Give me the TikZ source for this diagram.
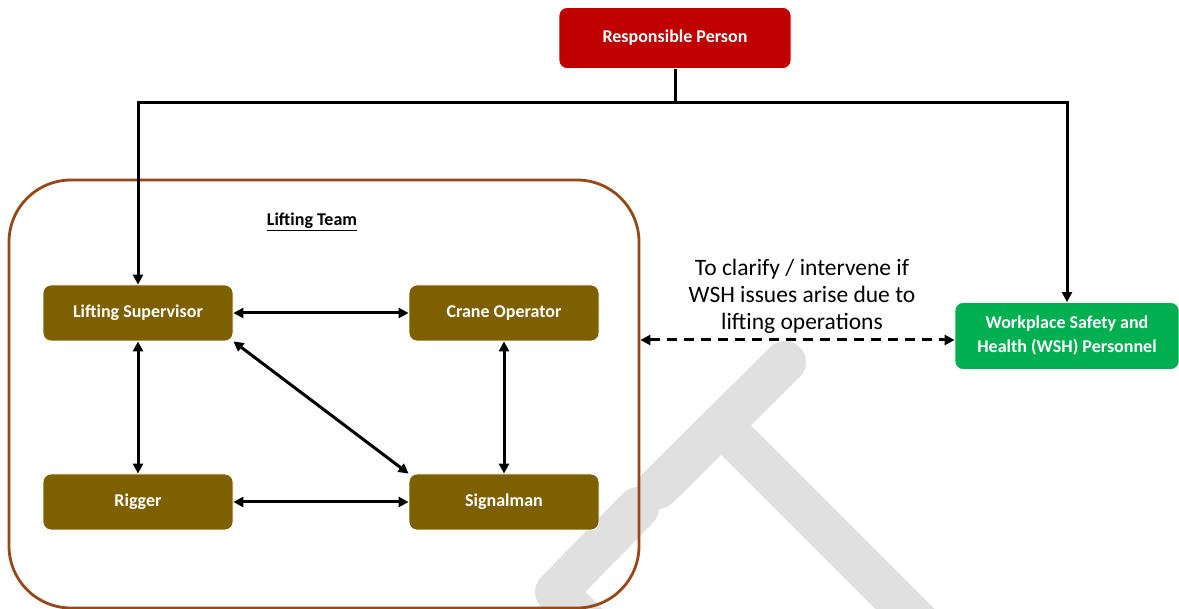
\documentclass[tikz,border=0pt]{standalone}
\usepackage{fontspec}
\setmainfont{Carlito}
\usetikzlibrary{arrows.meta}
\definecolor{rpred}{RGB}{192,0,0}
\definecolor{olive}{RGB}{127,96,0}
\definecolor{wshgreen}{RGB}{0,176,80}
\definecolor{teambrown}{RGB}{150,72,22}
\definecolor{wmgray}{RGB}{224,224,224}
\tikzset{
  box/.style={draw=white, line width=0.8pt, rounded corners=8pt, text=white,
    font=\fontsize{18}{22}\selectfont\bfseries, align=center, inner sep=0pt},
  teambox/.style={box, fill=olive, minimum width=190pt, minimum height=56pt},
  conn/.style={line width=3pt, {Triangle[length=10pt,width=10pt]}-{Triangle[length=10pt,width=10pt]}},
  feed/.style={line width=3pt, -{Triangle[length=10pt,width=10pt]}},
  wm/.style={draw=wmgray, line width=42pt, line cap=round, line join=round}
}
\begin{document}
\begin{tikzpicture}[x=1pt,y=-1pt]
\useasboundingbox (0,0) rectangle (1179,609);
\begin{scope}
\clip (0,0) rectangle (1179,609);
% watermark
\draw[wm] (658,488) -- (785,362);
\draw[wm] (721,425) -- (960,664);
\draw[wm] (638,508) -- (556,592) -- (610,646);
\end{scope}
% team frame
\node[draw=teambrown, line width=2.8pt, rounded corners=62pt, minimum width=630pt, minimum height=428pt, inner sep=0pt] (team) at (324,394) {};
\node[font=\fontsize{18}{22}\selectfont\bfseries] (tl) at (312,222) {\underline{Lifting Team}};
% nodes
\node[box, fill=rpred, minimum width=232pt, minimum height=61pt] (rp) at (675,38) {Responsible Person};
\node[teambox] (ls) at (138,313) {Lifting Supervisor};
\node[teambox] (co) at (504,313) {Crane Operator};
\node[teambox] (rg) at (138,502) {Rigger};
\node[teambox] (sg) at (504,502) {Signalman};
\node[box, fill=wshgreen, minimum width=224pt, minimum height=67pt, font=\fontsize{18}{24}\selectfont\bfseries] (wsh) at (1067,336) {Workplace Safety and\\Health (WSH) Personnel};
% reporting lines
\coordinate (j) at (675,103);
\draw[line width=3pt] (rp.south) -- (j);
\draw[feed] (j) -| (ls.north);
\draw[feed] (j) -| (wsh.north);
% team links
\draw[conn] (ls.east) -- (co.west);
\draw[conn] (rg.east) -- (sg.west);
\draw[conn] (ls.south) -- (rg.north);
\draw[conn] (co.south) -- (sg.north);
\draw[conn] (ls.south east) -- (sg.north west);
% WSH link
\draw[conn, dash pattern=on 10pt off 7pt] (team.east |- 0,340) -- (wsh.west |- 0,340);
\node[font=\fontsize{23.5}{27}\selectfont, align=center] (lbl) at (802,296) {To clarify / intervene if\\WSH issues arise due to\\lifting operations};
\end{tikzpicture}
\end{document}
